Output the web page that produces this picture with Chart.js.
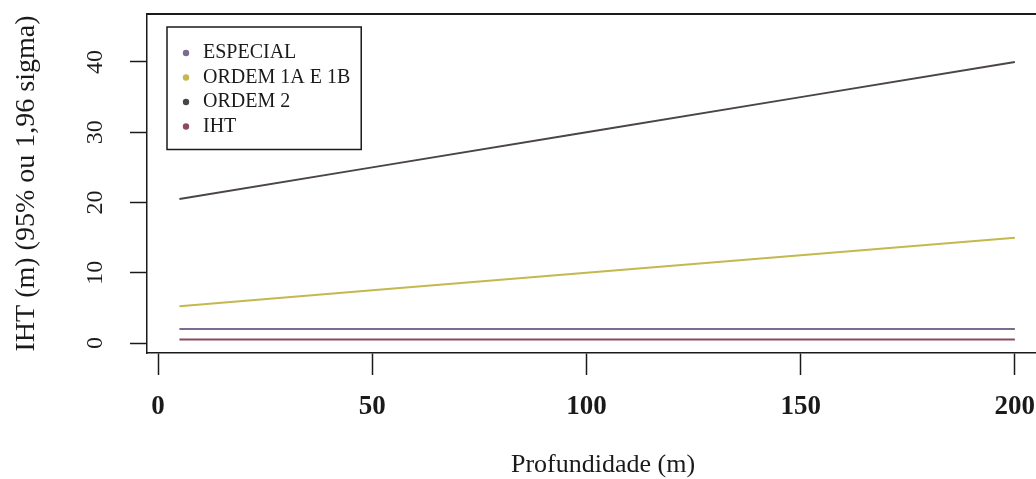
<!DOCTYPE html>
<html lang="pt">
<head>
    <meta charset="UTF-8">
    <title>IHT vs Profundidade</title>
    <script src="https://cdn.jsdelivr.net/npm/chart.js"></script>
    <style>
        html, body {
            margin: 0;
            padding: 0;
            background: #ffffff;
            overflow: hidden;
        }
        #wrap {
            width: 1036px;
            height: 479px;
            overflow: hidden;
        }
    </style>
</head>
<body>
    <div id="wrap">
        <canvas id="chart" width="1059" height="479"></canvas>
    </div>

    <script>
        // Data (depth in m, IHT in m)
        const depths = [5, 50, 100, 150, 200];
        const especial = [2, 2, 2, 2, 2];
        const ordem1 = [5.25, 7.5, 10, 12.5, 15];
        const ordem2 = [20.5, 25, 30, 35, 40];
        const iht = [0.5, 0.5, 0.5, 0.5, 0.5];

        const seriesNames = ['ESPECIAL', 'ORDEM 1A E 1B', 'ORDEM 2', 'IHT'];
        const seriesColors = ['#7d6a93', '#c4b84e', '#4b4545', '#8a4a60'];

        const xTicks = [0, 50, 100, 150, 200];
        const yTicks = [0, 10, 20, 30, 40];

        const ink = '#1a1a1a';
        const serif = "'Liberation Serif', 'Times New Roman', serif";

        const toPoints = (ys) => depths.map((d, i) => ({ x: d, y: ys[i] }));

        const datasets = [especial, ordem1, ordem2, iht].map((ys, i) => ({
            label: seriesNames[i],
            data: toPoints(ys),
            borderColor: seriesColors[i],
            backgroundColor: seriesColors[i],
            pointBackgroundColor: seriesColors[i],
            pointBorderWidth: 0,
            pointRadius: 0,
            borderWidth: 2,
            tension: 0
        }));

        // box around plot + frame around legend, R style
        const framePlugin = {
            id: 'frame',
            afterLayout(chart) {
                const lg = chart.legend;
                lg.left = chart.chartArea.left + 27.5;
                lg.top = chart.chartArea.top + 24.5;
            },
            afterDraw(chart) {
                const { ctx, chartArea } = chart;
                ctx.save();
                ctx.strokeStyle = ink;
                ctx.lineWidth = 2;
                ctx.beginPath();
                ctx.moveTo(chartArea.left, chartArea.top);
                ctx.lineTo(chartArea.right, chartArea.top);
                ctx.stroke();

                const boxes = chart.legend.legendHitBoxes;
                if (boxes && boxes.length) {
                    const l = boxes[0].left - 12;
                    const t = boxes[0].top - 16;
                    const r = Math.max(...boxes.map(b => b.left + b.width)) + 11;
                    const last = boxes[boxes.length - 1];
                    const b = last.top + last.height + 13;
                    ctx.lineWidth = 1.5;
                    ctx.strokeRect(l, t, r - l, b - t);
                }
                ctx.restore();
            }
        };

        const noPad = (s) => {
            s.paddingTop = 0;
            s.paddingBottom = 0;
            s.paddingLeft = 0;
            s.paddingRight = 0;
        };

        new Chart(document.getElementById('chart'), {
            type: 'line',
            data: { datasets },
            plugins: [framePlugin],
            options: {
                responsive: false,
                animation: false,
                layout: { padding: { top: 14, left: 0, right: 0, bottom: 0 } },
                plugins: {
                    legend: {
                        position: 'chartArea',
                        align: 'start',
                        labels: {
                            usePointStyle: true,
                            pointStyle: 'circle',
                            boxWidth: 14,
                            boxHeight: 4.5,
                            padding: 4.5,
                            color: ink,
                            font: { family: serif, size: 20 }
                        }
                    },
                    tooltip: { enabled: false }
                },
                scales: {
                    x: {
                        type: 'linear',
                        min: -2.57,
                        max: 210.3,
                        afterFit: (s) => { s.height = 126; noPad(s); },
                        afterBuildTicks: (s) => { s.ticks = xTicks.map(v => ({ value: v })); },
                        grid: {
                            drawOnChartArea: false,
                            drawTicks: true,
                            tickLength: 22,
                            tickWidth: 1.5,
                            tickColor: ink
                        },
                        border: { display: true, color: ink, width: 1.5 },
                        ticks: {
                            color: ink,
                            padding: 16,
                            maxRotation: 0,
                            font: { family: serif, size: 27, weight: 'bold' }
                        },
                        title: {
                            display: true,
                            text: 'Profundidade (m)',
                            color: ink,
                            font: { family: serif, size: 26, lineHeight: 1 },
                            padding: { top: 0, bottom: 1 }
                        }
                    },
                    y: {
                        type: 'linear',
                        min: -1.42,
                        max: 46.83,
                        afterFit: (s) => { s.width = 147; noPad(s); },
                        afterBuildTicks: (s) => { s.ticks = yTicks.map(v => ({ value: v })); },
                        grid: {
                            drawOnChartArea: false,
                            drawTicks: true,
                            tickLength: 17,
                            tickWidth: 1.5,
                            tickColor: ink
                        },
                        border: { display: true, color: ink, width: 1.5 },
                        ticks: {
                            color: ink,
                            padding: 22,
                            minRotation: 90,
                            maxRotation: 90,
                            crossAlign: 'center',
                            font: { family: serif, size: 24 }
                        },
                        title: {
                            display: true,
                            text: 'IHT (m) (95% ou 1,96 sigma)',
                            color: ink,
                            font: { family: serif, size: 28, lineHeight: 1.2 },
                            padding: { top: 10, bottom: 0 }
                        }
                    }
                }
            }
        });
    </script>
</body>
</html>
